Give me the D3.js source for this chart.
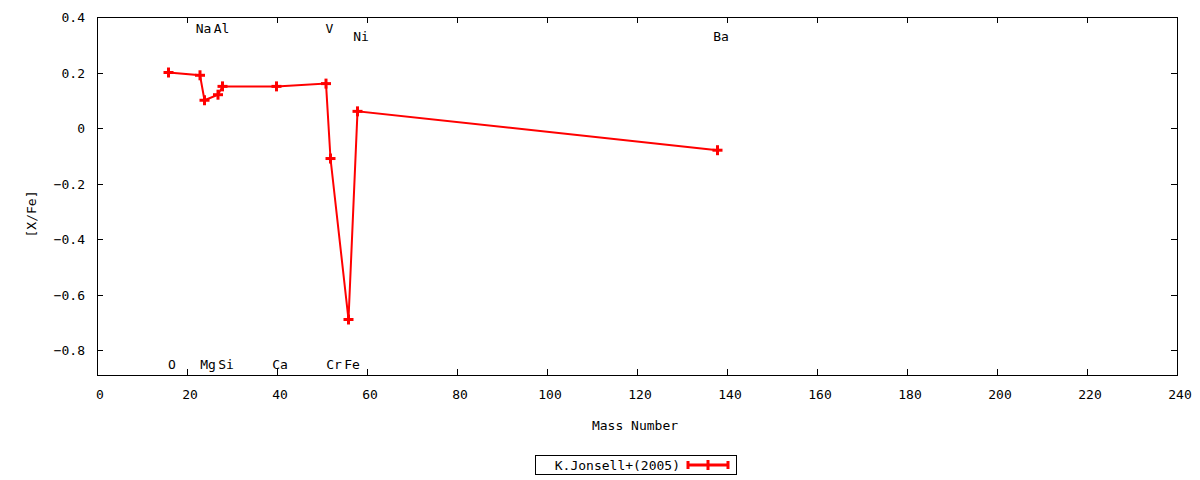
<!DOCTYPE html>
<html>
<head>
<meta charset="utf-8">
<script src="https://cdn.jsdelivr.net/npm/d3@7"></script>
<style>
  html, body { margin: 0; padding: 0; background: #fff; }
  svg { display: block; }
  text { font-family: "DejaVu Sans Mono", monospace; font-size: 13px; fill: #000; }
</style>
</head>
<body>
<svg id="chart" width="1200" height="480"></svg>
<script>
// ---- data ----
const massNumbers = [16, 23, 24, 27, 28, 40, 51, 52, 56, 58, 138];
const xfeValues   = [0.20, 0.19, 0.10, 0.12, 0.15, 0.15, 0.16, -0.11, -0.69, 0.06, -0.08];
const elementNames  = ["O", "Na", "Mg", "Al", "Si", "Ca", "V", "Cr", "Fe", "Ni", "Ba"];
const elementLabelY = [-0.85, 0.36, -0.85, 0.36, -0.85, -0.85, 0.36, -0.85, -0.85, 0.33, 0.33];
const xTicks = [0, 20, 40, 60, 80, 100, 120, 140, 160, 180, 200, 220, 240];
const yTicks = [-0.8, -0.6, -0.4, -0.2, 0, 0.2, 0.4];
const seriesName = "K.Jonsell+(2005)";

// ---- layout ----
const svg = d3.select("#chart");
const pLeft = 97, pRight = 1177, pTop = 17, pBottom = 375;
const x = d3.scaleLinear().domain([0, 240]).range([pLeft, pRight]);
const y = d3.scaleLinear().domain([-0.89, 0.4]).range([pBottom, pTop]);
const red = "#ff0000";
const tickLen = 6;

// frame
svg.append("rect").attr("x", pLeft + 0.5).attr("y", pTop + 0.5)
  .attr("width", pRight - pLeft).attr("height", pBottom - pTop)
  .attr("fill", "none").attr("stroke", "#000").attr("stroke-width", 1);

// ticks (inward, mirrored)
const fmtY = d => d === 0 ? "0" : d3.format(".1f")(d);
const g = svg.append("g");
xTicks.forEach(t => {
  const px = Math.round(x(t)) + 0.5;
  g.append("line").attr("x1", px).attr("x2", px).attr("y1", pBottom).attr("y2", pBottom - tickLen).attr("stroke", "#000");
  g.append("line").attr("x1", px).attr("x2", px).attr("y1", pTop).attr("y2", pTop + tickLen).attr("stroke", "#000");
  g.append("text").attr("x", x(t) + 3).attr("y", pBottom + 24).attr("text-anchor", "middle").text(t);
});
yTicks.forEach(t => {
  const py = Math.round(y(t)) + 0.5;
  g.append("line").attr("x1", pLeft).attr("x2", pLeft + tickLen).attr("y1", py).attr("y2", py).attr("stroke", "#000");
  g.append("line").attr("x1", pRight).attr("x2", pRight - tickLen).attr("y1", py).attr("y2", py).attr("stroke", "#000");
  g.append("text").attr("x", pLeft - 12).attr("y", y(t) + 5).attr("text-anchor", "end").text(fmtY(t));
});

// axis labels
svg.append("text").attr("x", (pLeft + pRight) / 2 - 2).attr("y", 430).attr("text-anchor", "middle").text("Mass Number");
svg.append("text").attr("transform", `translate(36,${(pTop + pBottom) / 2 + 18}) rotate(-90)`)
  .attr("text-anchor", "middle").text("[X/Fe]");

// element labels
elementNames.forEach((n, i) => {
  svg.append("text").attr("x", x(massNumbers[i]) + 3).attr("y", y(elementLabelY[i]) + 5)
    .attr("text-anchor", "middle").text(n);
});

// series line
const data = massNumbers.map((m, i) => ({ m, v: xfeValues[i] }));
const line = d3.line().x(d => x(d.m) - 0.5).y(d => y(d.v));
svg.append("path").datum(data).attr("d", line)
  .attr("fill", "none").attr("stroke", red).attr("stroke-width", 2);

// plus markers
const ps = 5;
const marks = svg.append("g").attr("stroke", red).attr("stroke-width", 3);
data.forEach(d => {
  const cx = x(d.m) - 0.5, cy = y(d.v);
  marks.append("line").attr("x1", cx - ps).attr("x2", cx + ps).attr("y1", cy).attr("y2", cy);
  marks.append("line").attr("x1", cx).attr("x2", cx).attr("y1", cy - ps).attr("y2", cy + ps);
});

// legend
const lg = svg.append("g");
lg.append("rect").attr("x", 535.5).attr("y", 455.5).attr("width", 201).attr("height", 19)
  .attr("fill", "#fff").attr("stroke", "#000");
lg.append("text").attr("x", 680).attr("y", 470).attr("text-anchor", "end").text(seriesName);
const ly = 465, lx1 = 687, lx2 = 729, lxm = (lx1 + lx2) / 2;
lg.append("line").attr("x1", lx1).attr("x2", lx2).attr("y1", ly).attr("y2", ly).attr("stroke", red).attr("stroke-width", 3);
[lx1 + 1, lx2 - 1].forEach(px => {
  lg.append("line").attr("x1", px).attr("x2", px).attr("y1", ly - 4).attr("y2", ly + 4).attr("stroke", red).attr("stroke-width", 3);
});
lg.append("line").attr("x1", lxm).attr("x2", lxm).attr("y1", ly - 5).attr("y2", ly + 5).attr("stroke", red).attr("stroke-width", 3);
</script>
</body>
</html>
